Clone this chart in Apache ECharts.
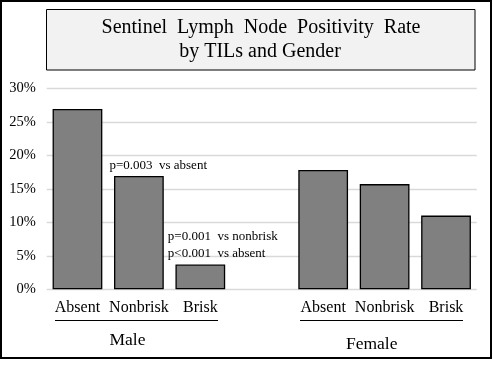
<!DOCTYPE html>
<html><head><meta charset="utf-8">
<script src="https://cdn.jsdelivr.net/npm/echarts@6/dist/echarts.min.js"></script>
<style>html,body{margin:0;padding:0;background:#fff}#c{width:493px;height:365px}</style>
</head><body><div id="c"></div>
<script>
var categories = ['Absent','Nonbrisk','Brisk','','Absent','Nonbrisk','Brisk'];
var maleValues = [26.9, 16.9, 3.7];
var femaleValues = [17.8, 15.7, 11.0];
var yTicks = [0, 5, 10, 15, 20, 25, 30];
var groupLabels = ['Male', 'Female'];
var titleLines = ['Sentinel  Lymph  Node  Positivity  Rate', 'by TILs and Gender'];
var notes = ['', 'p=0.003  vs absent', 'p=0.001  vs nonbrisk\np<0.001  vs absent'];

var SERIF = 'Liberation Serif';
var values = maleValues.concat(['-']).concat(femaleValues);
var data = values.map(function(v, i){
  var item = {value: v};
  if (i === 1) item.label = {show:true, position:'top', formatter: notes[1], offset:[19.3,0], distance:4, fontSize:13, lineHeight:13, fontFamily:SERIF, color:'#000'};
  if (i === 2) item.label = {show:true, position:'top', formatter: notes[2], align:'left', offset:[-32.5,0], distance:2.4, lineHeight:16.7, fontSize:13, fontFamily:SERIF, color:'#000'};
  return item;
});

var chart = echarts.init(document.getElementById('c'));
chart.setOption({
  animation:false,
  grid:{left:46.75, right:16.25, top:88.3, bottom:75.7},
  xAxis:{type:'category', data:categories, axisLine:{show:false}, axisTick:{show:false},
    axisLabel:{margin:10, fontSize:16, lineHeight:16, fontFamily:SERIF, color:'#000', interval:0}},
  yAxis:{type:'value', min:yTicks[0], max:yTicks[yTicks.length-1], interval:yTicks[1]-yTicks[0],
    axisLine:{show:false}, axisTick:{show:false},
    axisLabel:{margin:11, fontSize:14.5, fontFamily:SERIF, color:'#000', formatter:function(v){return v+'%';}},
    splitLine:{lineStyle:{color:'#d9d9d9', width:1.3}}},
  series:[{type:'bar', data:data, barWidth:'81%',
    itemStyle:{color:'#808080', borderColor:'#000', borderWidth:1.3}}],
  graphic:[
    {type:'rect', shape:{x:1, y:1, width:490, height:357}, style:{fill:'none', stroke:'#000', lineWidth:2}, silent:true},
    {type:'rect', shape:{x:46.5, y:9.5, width:428.5, height:60.5}, style:{fill:'#f2f2f2', stroke:'#000', lineWidth:1}, silent:true},
    {type:'text', x:261, y:28, style:{text:titleLines[0], fontSize:20, fontFamily:SERIF, fill:'#000', align:'center', verticalAlign:'middle'}},
    {type:'text', x:260, y:52, style:{text:titleLines[1], fontSize:20, fontFamily:SERIF, fill:'#000', align:'center', verticalAlign:'middle'}},
    {type:'line', shape:{x1:55, y1:320.5, x2:218, y2:320.5}, style:{stroke:'#000', lineWidth:1}},
    {type:'line', shape:{x1:300, y1:320.5, x2:463, y2:320.5}, style:{stroke:'#000', lineWidth:1}},
    {type:'text', x:127.5, y:340.4, style:{text:groupLabels[0], fontSize:17.5, fontFamily:SERIF, fill:'#000', align:'center', verticalAlign:'middle'}},
    {type:'text', x:371.7, y:344, style:{text:groupLabels[1], fontSize:17.5, fontFamily:SERIF, fill:'#000', align:'center', verticalAlign:'middle'}}
  ]
});
</script></body></html>
